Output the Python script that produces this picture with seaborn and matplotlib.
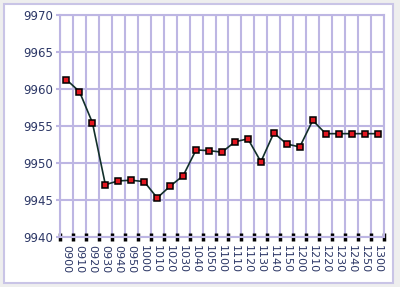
import matplotlib
matplotlib.use("Agg")
import matplotlib.pyplot as plt
from matplotlib.patches import Rectangle
from matplotlib.ticker import FixedLocator, MultipleLocator
import numpy as np
import pandas as pd
import seaborn as sns

labels = ["0900", "0910", "0920", "0930", "0940", "0950",
          "1000", "1010", "1020", "1030", "1040", "1050",
          "1100", "1110", "1120", "1130", "1140", "1150",
          "1200", "1210", "1220", "1230", "1240", "1250", "1300"]
values = [9961.3, 9959.7, 9955.5, 9947.1, 9947.6, 9947.7, 9947.5, 9945.3,
          9946.9, 9948.3, 9951.8, 9951.7, 9951.5, 9952.9, 9953.3, 9950.2,
          9954.1, 9952.6, 9952.2, 9955.8, 9954.0, 9954.0, 9954.0, 9954.0, 9954.0]
y_min, y_max, y_step = 9940, 9970, 5

df = pd.DataFrame({"idx": np.arange(len(values)), "value": values})

grid_c = "#bdb6e3"
text_c = "#2c3766"

fig = plt.figure(figsize=(4.0, 2.87), dpi=100)
fig.patch.set_facecolor("#eeeeee")
fig.add_artist(Rectangle((4 / 400, 4 / 287), 389 / 400, 279 / 287,
                         transform=fig.transFigure, facecolor="white",
                         edgecolor="#c9c4e6", linewidth=1.5, zorder=0))

ax = fig.add_axes([0.15, 0.174, 0.81, 0.772])
ax.set_facecolor("white")

sns.lineplot(data=df, x="idx", y="value", ax=ax, color="#12302a", linewidth=1.2,
             marker="s", markersize=5, markerfacecolor="#e3171f",
             markeredgecolor="black", markeredgewidth=1.1, zorder=5)

n = len(values)
ax.set_xlim(-0.5, n - 0.5)
ax.set_ylim(y_min, y_max)
ax.yaxis.set_major_locator(MultipleLocator(y_step))
ax.set_xticks(np.arange(n))
ax.set_xticklabels(labels, rotation=-90, fontsize=8, color=text_c,
                   ha="center", va="top")
ax.xaxis.set_minor_locator(FixedLocator(np.arange(n + 1) - 0.5))
ax.tick_params(axis="x", which="major", length=0, pad=6)
ax.tick_params(axis="x", which="minor", length=6, width=2.5, color="black",
               direction="inout")
ax.tick_params(axis="y", which="major", length=3, width=1.5, color=grid_c,
               labelsize=8.5, labelcolor=text_c, pad=2)

ax.grid(False)
ax.grid(True, which="minor", axis="x", color=grid_c, linewidth=1.5)
ax.grid(True, which="major", axis="y", color=grid_c, linewidth=1.5)
for s in ax.spines.values():
    s.set_color(grid_c)
    s.set_linewidth(1.5)
ax.set_xlabel("")
ax.set_ylabel("")

fig.savefig("out.png", dpi=100, facecolor=fig.get_facecolor())
